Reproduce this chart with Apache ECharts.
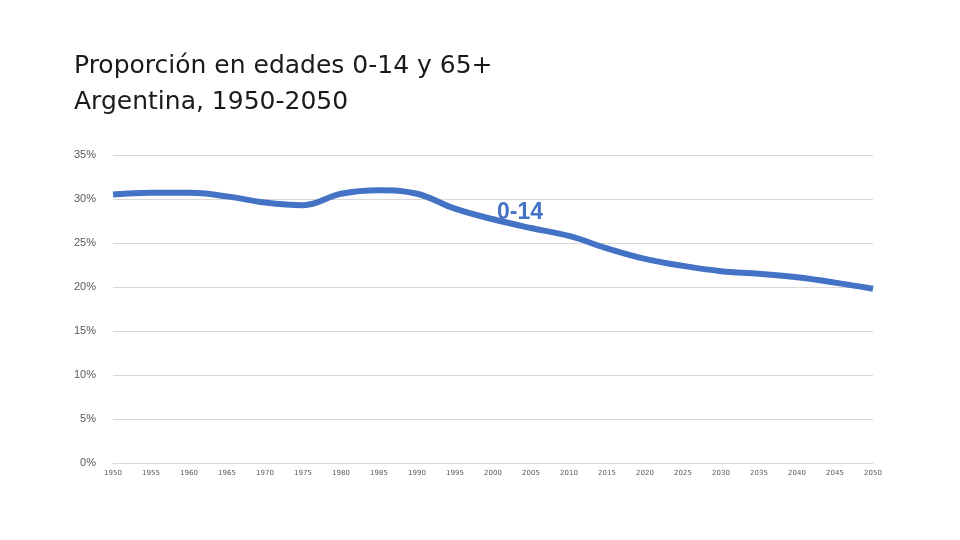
<!DOCTYPE html>
<html>
<head>
<meta charset="utf-8">
<script src="https://cdn.jsdelivr.net/npm/echarts@6/dist/echarts.min.js"></script>
<style>html,body{margin:0;padding:0;background:#fff}#c{width:960px;height:540px}</style>
</head>
<body>
<div id="c"></div>
<script>
const titleLines = ['Proporción en edades 0-14 y 65+', 'Argentina, 1950-2050'];
const years = [1950,1955,1960,1965,1970,1975,1980,1985,1990,1995,2000,2005,2010,2015,2020,2025,2030,2035,2040,2045,2050];
const share014 = [30.5,30.7,30.7,30.3,29.6,29.3,30.6,31.0,30.6,28.9,27.7,26.7,25.8,24.4,23.2,22.4,21.8,21.5,21.1,20.5,19.8];
const seriesName = '0-14';
const labelIndex = 10;

const chart = echarts.init(document.getElementById('c'));
chart.setOption({
  animation: false,
  backgroundColor: '#ffffff',
  title: {
    text: titleLines.join('\n'),
    left: 69, top: 43,
    textStyle: { fontFamily: 'DejaVu Sans', fontWeight: 'normal', fontSize: 25, color: '#1a1a1a', lineHeight: 36 }
  },
  grid: { left: 113, right: 87, top: 155, bottom: 77 },
  xAxis: {
    type: 'value', min: 1950, max: 2050, interval: 5,
    splitLine: { show: false },
    axisLine: { show: true, lineStyle: { color: '#d9d9d9' } },
    axisTick: { show: false },
    axisLabel: { fontFamily: 'DejaVu Sans', fontSize: 7, color: '#595959', margin: 7,
      formatter: function (v) { return String(v); } }
  },
  yAxis: {
    type: 'value', min: 0, max: 35, interval: 5,
    axisLine: { show: false }, axisTick: { show: false },
    splitLine: { lineStyle: { color: '#d9d9d9', width: 1 } },
    axisLabel: { formatter: '{value}%', fontFamily: 'Liberation Sans', fontSize: 11, color: '#595959', margin: 17 }
  },
  series: [{
    name: seriesName,
    type: 'line', smooth: 0.4,
    symbol: 'circle', symbolSize: 1, showSymbol: true,
    itemStyle: { color: 'rgba(68,114,196,0)', borderWidth: 0 },
    lineStyle: { color: '#4472c4', width: 6 },
    label: { show: false },
    data: years.map((y, i) => {
      const d = { value: [y, share014[i]] };
      if (i === labelIndex) {
        d.label = { show: true, formatter: seriesName, position: 'top', offset: [27, 10],
          fontFamily: 'Liberation Sans', fontWeight: 'bold', fontSize: 23, color: '#4472c4' };
      }
      return d;
    })
  }]
});
</script>
</body>
</html>
